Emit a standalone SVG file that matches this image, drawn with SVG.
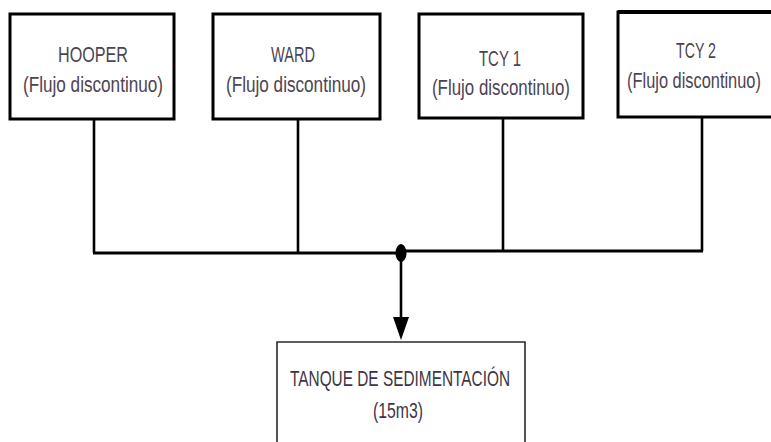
<svg xmlns="http://www.w3.org/2000/svg" width="771" height="442" viewBox="0 0 771 442">
<style>
.box{fill:#fff;stroke:#000;stroke-width:3}
.tank{fill:#fff;stroke:#2a2a2a;stroke-width:1.6}
.t{font-family:"Liberation Sans","DejaVu Sans",sans-serif;font-size:22px;fill:#4d4452;text-anchor:middle}
.k{fill:#3e3544}
.c{fill:none;stroke:#000;stroke-width:2.6}
.bus{fill:none;stroke:#000;stroke-width:3.2}
</style>
<rect width="771" height="442" fill="#fff"/>
<g id="connectors">
<path class="c" d="M94 119V253M298 119V253M503 118V251M702 117V251"/>
<path class="bus" d="M93 253H401M401 251H703"/>
<ellipse cx="401" cy="253" rx="5.5" ry="9" fill="#000"/>
<path class="c" d="M401 253V320"/>
<polygon points="393,317 409,317 401,340" fill="#000"/>
</g>
<g id="hooper">
<rect class="box" x="10" y="14" width="164" height="105"/>
<text class="t" x="93" y="62" textLength="70" lengthAdjust="spacingAndGlyphs">HOOPER</text>
<text class="t" x="93" y="92" textLength="140" lengthAdjust="spacingAndGlyphs">(Flujo discontinuo)</text>
</g>
<g id="ward">
<rect class="box" x="213" y="14" width="167" height="105"/>
<text class="t" x="293" y="62" textLength="44" lengthAdjust="spacingAndGlyphs">WARD</text>
<text class="t" x="296" y="92" textLength="140" lengthAdjust="spacingAndGlyphs">(Flujo discontinuo)</text>
</g>
<g id="tcy1">
<rect class="box" x="419" y="14" width="164" height="104"/>
<text class="t" x="500" y="66" textLength="42" lengthAdjust="spacingAndGlyphs">TCY 1</text>
<text class="t" x="501" y="95" textLength="138" lengthAdjust="spacingAndGlyphs">(Flujo discontinuo)</text>
</g>
<g id="tcy2">
<path d="M771 12H618V117H771" fill="#fff" stroke="#000" stroke-width="3"/>
<line x1="618" y1="12" x2="771" y2="12" stroke="#000" stroke-width="4"/>
<text class="t" x="696" y="58" textLength="40" lengthAdjust="spacingAndGlyphs">TCY 2</text>
<text class="t" transform="translate(694 88) scale(0.745 1)" x="0" y="0">(Flujo discontinuo)</text>
</g>
<g id="tanque">
<path class="tank" d="M277 442V342H525V442"/>
<text class="t k" x="400" y="386" textLength="220" lengthAdjust="spacingAndGlyphs">TANQUE DE SEDIMENTACIÓN</text>
<text class="t k" x="398" y="418" textLength="50" lengthAdjust="spacingAndGlyphs">(15m3)</text>
</g>
</svg>
